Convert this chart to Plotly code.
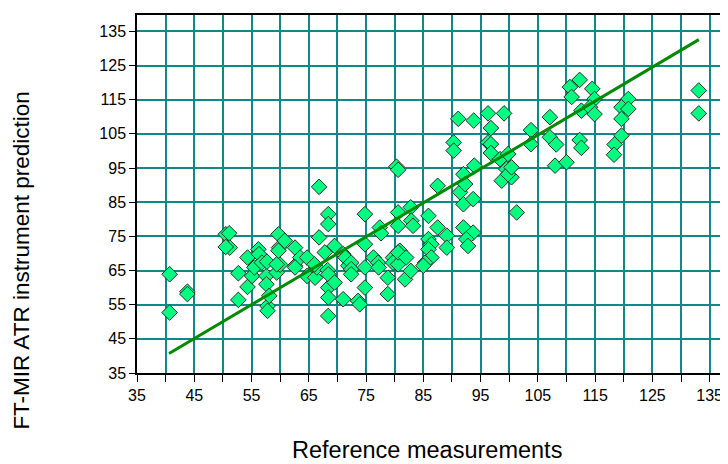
import plotly.graph_objects as go

ref_x = [
    40.7, 40.7, 43.8, 43.8,
    50.5, 51.1, 51.2, 50.5, 52.7, 52.7,
    54.3, 54.3, 55.1, 55.5, 56.2, 56.3, 56.8,
    57.6, 57.6, 57.7, 57.8, 57.8, 58.1,
    59.4, 59.7, 59.8, 60.0, 60.8, 59.7, 59.4,
    62.6, 62.6, 63.5, 64.7, 64.7, 62.6,
    66.1, 66.4, 66.8, 66.8, 66.0,
    67.8, 68.3, 68.4, 68.4, 68.4, 68.4, 68.4, 68.4,
    69.5, 69.5, 71.0, 71.0, 71.4, 71.9, 72.4, 72.4, 72.4,
    73.6, 73.9,
    74.8, 74.8, 74.8, 74.8,
    76.3, 77.1, 77.2, 77.4, 77.6,
    78.8, 78.8, 79.7, 79.7,
    80.6, 80.6, 80.6, 80.9, 80.3, 80.6, 80.6,
    81.8, 82.0, 82.8, 82.9, 82.8, 83.2,
    85.9, 87.5, 89.1, 89.1, 85.9, 86.4, 85.9, 86.4, 85.3, 85.0,
    87.5,
    90.3, 90.3, 91.1, 93.8,
    91.4, 92.0, 93.7, 92.0, 92.3, 93.9,
    92.0, 93.7, 92.5, 92.8,
    96.3, 99.1, 96.8, 96.3, 96.8, 96.8,
    98.4, 99.8, 99.5, 98.7, 100.4, 99.8, 100.4,
    101.3,
    103.8, 103.8,
    107.1, 107.1, 108.2, 108.0, 110.0,
    110.6, 112.3, 110.9, 112.6,
    114.5, 114.9, 114.1, 114.9,
    112.3, 112.6,
    120.8, 119.6, 120.8, 119.6,
    119.6, 118.4, 118.3,
    133.1, 133.1,
]
pred_y = [
    63.9, 52.7, 58.8, 58.1,
    75.6, 75.9, 71.7, 71.9, 64.2, 56.4,
    68.8, 60.2, 63.4, 65.9, 71.2, 69.8, 67.3,
    63.4, 61.0, 67.6, 54.6, 53.2, 57.6,
    64.4, 75.6, 71.7, 66.7, 73.7, 70.8, 66.8,
    71.7, 66.4, 68.8, 68.8, 63.4, 65.9,
    62.9, 65.9, 74.7, 89.5, 66.8,
    70.3, 65.1, 81.5, 78.6, 60.0, 57.1, 51.7, 63.9,
    72.2, 61.5, 69.8, 56.6, 68.8, 66.4, 67.3, 65.4, 63.9,
    56.1, 55.1,
    81.5, 72.7, 65.9, 60.0,
    68.8, 67.3, 65.9, 77.6, 75.9,
    62.9, 58.1, 68.8, 67.3,
    82.0, 78.1, 66.8, 70.8, 95.4, 94.5, 70.3,
    62.4, 68.8, 83.5, 79.6, 64.9, 78.1,
    81.0, 77.6, 75.2, 71.7, 74.2, 72.7, 71.2, 68.8, 67.3, 66.4,
    89.8,
    102.5, 100.1, 109.4, 108.9,
    87.9, 84.4, 85.9, 93.2, 90.3, 95.7,
    77.6, 76.1, 74.2, 72.2,
    111.0, 111.0, 106.7, 102.5, 102.0, 99.4,
    97.6, 99.1, 94.7, 91.3, 92.3, 93.2, 95.2,
    82.0,
    106.1, 102.0,
    109.9, 104.0, 101.9, 95.7, 96.7,
    118.7, 120.8, 115.8, 111.8,
    118.2, 115.2, 112.8, 110.8,
    103.2, 100.9,
    115.2, 112.8, 112.3, 109.4,
    104.5, 101.9, 98.9,
    117.7, 111.0,
]

# Regression line end points
fit_x = [40.6, 133.1]
fit_y = [40.7, 132.6]

x_tick_vals = [35, 45, 55, 65, 75, 85, 95, 105, 115, 125, 135]
y_tick_vals = [35, 45, 55, 65, 75, 85, 95, 105, 115, 125, 135]

GRID = "#108888"

fig = go.Figure()
fig.add_trace(go.Scatter(
    x=ref_x, y=pred_y, mode="markers",
    marker=dict(symbol="diamond", size=12, color="#00ff80",
                line=dict(color="#2a2a2a", width=1)),
    showlegend=False, hoverinfo="x+y",
))
fig.add_trace(go.Scatter(
    x=fit_x, y=fit_y, mode="lines",
    line=dict(color="#008a00", width=3),
    showlegend=False,
))

fig.update_layout(
    width=728, height=464,
    margin=dict(l=129, r=0, t=7, b=99),
    paper_bgcolor="white", plot_bgcolor="white",
    font=dict(family="Arial, Liberation Sans, sans-serif", color="black"),
    xaxis=dict(
        range=[35, 139.6], tickmode="array", tickvals=x_tick_vals,
        ticks="outside", ticklen=7, tickcolor="black", tickwidth=1,
        showline=True, linecolor="black", linewidth=1.5, mirror=True,
        showgrid=True, gridcolor=GRID, gridwidth=1.5, zeroline=False,
        tickfont=dict(size=16),
        minor=dict(dtick=5, tick0=35, ticks="outside", ticklen=7, tickcolor="black",
                   showgrid=True, gridcolor=GRID, gridwidth=1.5),
    ),
    yaxis=dict(
        range=[35, 139.8], tickmode="array", tickvals=y_tick_vals,
        ticks="outside", ticklen=6, tickcolor="black", tickwidth=1,
        showline=True, linecolor="black", linewidth=1.5,
        showgrid=True, gridcolor=GRID, gridwidth=1.5, zeroline=False,
        tickfont=dict(size=16),
    ),
    annotations=[
        dict(text="Reference measurements", xref="paper", yref="paper",
             x=0.484, y=-0.215, xanchor="center", yanchor="middle",
             showarrow=False, font=dict(size=23.5)),
        dict(text="FT-MIR ATR instrument prediction", xref="paper", yref="paper",
             x=-0.193, y=0.315, xanchor="center", yanchor="middle", textangle=-90,
             showarrow=False, font=dict(size=22.5)),
    ],
)

fig.write_html("out.html")
